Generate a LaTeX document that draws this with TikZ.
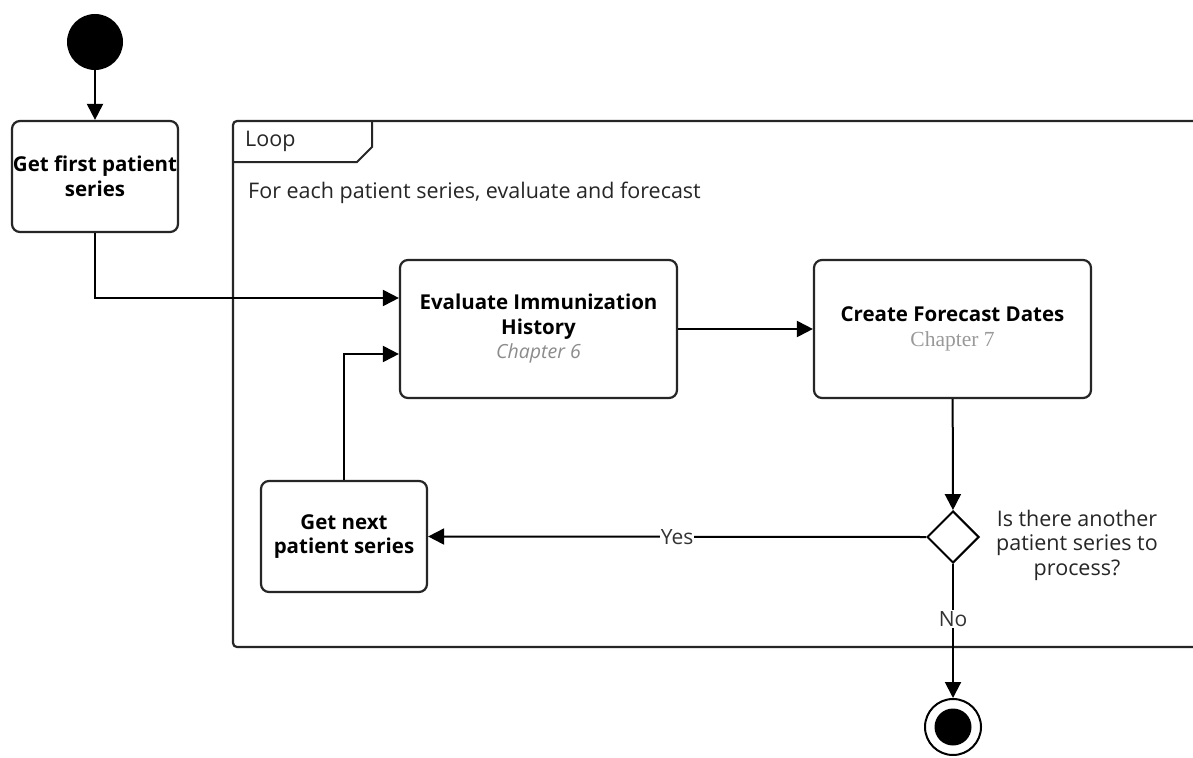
\documentclass[tikz,border=0pt]{standalone}
\usepackage{fontspec}
\setmainfont{Open Sans}
\newfontfamily\serifchap{Liberation Serif}
\usetikzlibrary{arrows.meta,shapes.geometric}
\tikzset{
  act/.style={draw=black!85, line width=2.2pt, rounded corners=8pt, fill=white, align=center, inner sep=0pt, font=\fontsize{20.5}{24.5}\selectfont\bfseries},
  arr/.style={draw=black, line width=2pt, -{Triangle[length=16pt,width=16pt]}},
  lbl/.style={fill=white, inner sep=1pt, font=\fontsize{21}{24.5}\selectfont, text=black!80},
  plain/.style={font=\fontsize{21.5}{24.5}\selectfont, text=black!85, align=center, inner sep=0pt}
}
\begin{document}
\begin{tikzpicture}[x=1pt,y=-1pt]
\useasboundingbox[fill=white] (0,0) rectangle (1193,757);
% loop frame
\draw[line width=2.2pt, draw=black!85, rounded corners=4pt] (1194,121) -- (233,121) -- (233,647) -- (1194,647);
\draw[line width=2pt, draw=black!85] (233,162) -- (357,162) -- (372,147) -- (372,121);
\node[plain, anchor=west] (looplbl) at (245,141) {Loop};
\node[plain, anchor=west] (loopdesc) at (248,193) {For each patient series, evaluate and forecast};
% nodes
\node[circle, fill=black, minimum size=56pt, inner sep=0pt] (start) at (95,42) {};
\node[act, minimum width=166pt, minimum height=111pt] (first) at (95,176.5) {Get first patient\\series};
\node[act, minimum width=277pt, minimum height=138pt] (eval) at (538.5,329) {Evaluate Immunization\\History\\{\mdseries\itshape\color{black!45}\fontsize{19.5}{24}\selectfont Chapter 6}};
\node[act, minimum width=277pt, minimum height=138pt] (fc) at (952.5,329) {Create Forecast Dates\\{\mdseries\serifchap\color{black!40}\fontsize{21.5}{24}\selectfont Chapter 7}};
\node[act, minimum width=166pt, minimum height=111pt] (next) at (344,536.5) {Get next\\patient series};
\node[diamond, draw=black, line width=2pt, fill=white, minimum width=52pt, minimum height=52pt, inner sep=0pt] (dec) at (953,537) {};
\node[plain] (q) at (1077,545) {Is there another\\patient series to\\process?};
\node[circle, draw=black, line width=2pt, minimum size=56pt, inner sep=0pt] (end) at (953,727) {};
\node[circle, fill=black, minimum size=37pt, inner sep=0pt] (endin) at (end.center) {};
% connectors
\draw[arr] (start) -- (first);
\draw[arr] (first.south) |- ([yshift=31pt]eval.west);
\draw[arr] (next.north) |- ([yshift=-25pt]eval.west);
\draw[arr] (eval) -- (fc);
\draw[arr] (fc) -- (dec);
\draw[arr] (dec.west) -- node[lbl] {Yes} (next.east);
\draw[arr] (dec.south) -- node[lbl, pos=0.41] {No} (end.north);
\end{tikzpicture}
\end{document}
